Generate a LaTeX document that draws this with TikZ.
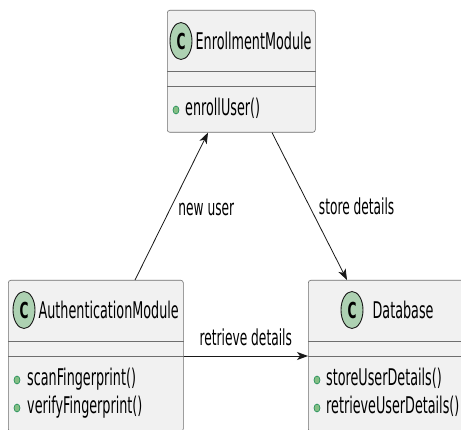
\documentclass[tikz,border=0pt]{standalone}
\usepackage{fontspec}
\setmainfont{DejaVu Sans}[FakeStretch=0.555]
\usetikzlibrary{arrows.meta,positioning,shapes.geometric}
\definecolor{boxfill}{HTML}{F1F1F1}
\definecolor{boxline}{HTML}{6E6E6E}
\definecolor{spotfill}{HTML}{ADD1B2}
\definecolor{dotfill}{HTML}{84BE84}
\definecolor{dotline}{HTML}{038048}
\definecolor{inkline}{HTML}{181818}
\tikzset{
  classbox/.style={
    draw=boxline,
    line width=0.6pt,
    rounded corners=2.5pt,
    fill=boxfill,
    anchor=north west,
    inner sep=0pt
  },
  sepline/.style={draw=boxline,line width=0.6pt},
  spot/.style={
    ellipse,
    draw=inkline,
    line width=0.9pt,
    fill=spotfill,
    minimum width=22pt,
    minimum height=37pt,
    inner sep=0pt,
    font=\fontsize{22}{22}\selectfont\bfseries
  },
  classname/.style={anchor=west,inner sep=0pt,font=\fontsize{23}{25}\selectfont},
  member/.style={anchor=base west,inner sep=0pt,font=\fontsize{23}{25}\selectfont},
  memberdot/.style={
    ellipse,
    draw=dotline,
    line width=0.5pt,
    fill=dotfill,
    minimum width=6pt,
    minimum height=8pt,
    inner sep=0pt
  },
  linklabel/.style={inner sep=0pt,font=\fontsize{22}{23}\selectfont},
  linkarrow/.style={-{Stealth[length=11pt,width=8pt,inset=3pt]},line width=0.8pt,draw=inkline}
}

\begin{document}
\begin{tikzpicture}[x=1pt,y=-1pt]
\useasboundingbox (0,0) rectangle (461,430);
\clip (0,0) rectangle (461,430);
\fill[white] (0,0) rectangle (461,430);
% classes
\node[classbox,minimum width=148pt,minimum height=122pt] (enroll) at (167,10) {};
\node[classbox,minimum width=175pt,minimum height=151pt] (auth) at (8,280) {};
\node[classbox,minimum width=170pt,minimum height=151pt] (db) at (308,280) {};
\foreach \cls in {enroll,auth,db}{
  \draw[sepline] ([yshift=-61pt]\cls.north west) -- ([yshift=-61pt]\cls.north east);
  \draw[sepline] ([yshift=-76pt]\cls.north west) -- ([yshift=-76pt]\cls.north east);
}
% headers
\node[spot] (enrollC) at (181,41) {C};
\node[classname,right=3pt of enrollC] (enrollName) {EnrollmentModule};
\node[spot] (authC) at (24,310) {C};
\node[classname,right=3pt of authC] (authName) {AuthenticationModule};
\node[spot] (dbC) at (352,310) {C};
\node[classname,right=9pt of dbC] (dbName) {Database};
% members
\node[memberdot] (enrollDot) at (176,110) {};
\node[member] (enrollUser) at (185,116) {enrollUser()};
\node[memberdot] (authDotA) at (17,380) {};
\node[member] (scanFp) at (27,386) {scanFingerprint()};
\node[memberdot] (authDotB) at (17,408) {};
\node[member] (verifyFp) at (27,414) {verifyFingerprint()};
\node[memberdot] (dbDotA) at (317,380) {};
\node[member] (storeUD) at (326,386) {storeUserDetails()};
\node[memberdot] (dbDotB) at (317,408) {};
\node[member] (retrieveUD) at (326,414) {retrieveUserDetails()};
% links
\draw[linkarrow] ([xshift=127pt]auth.north west) -- node[linklabel,pos=0.48,anchor=west,xshift=8pt] (newUser) {new user} ([xshift=41pt]enroll.south west);
\draw[linkarrow] ([xshift=105pt]enroll.south west) -- node[linklabel,pos=0.5,anchor=west,xshift=9pt] (storeDet) {store details} ([xshift=39pt]db.north west);
\draw[linkarrow] ([yshift=-76pt]auth.north east) -- node[linklabel,above=10pt] (retrieveDet) {retrieve details} ([yshift=-76pt]db.north west);
\end{tikzpicture}
\end{document}
